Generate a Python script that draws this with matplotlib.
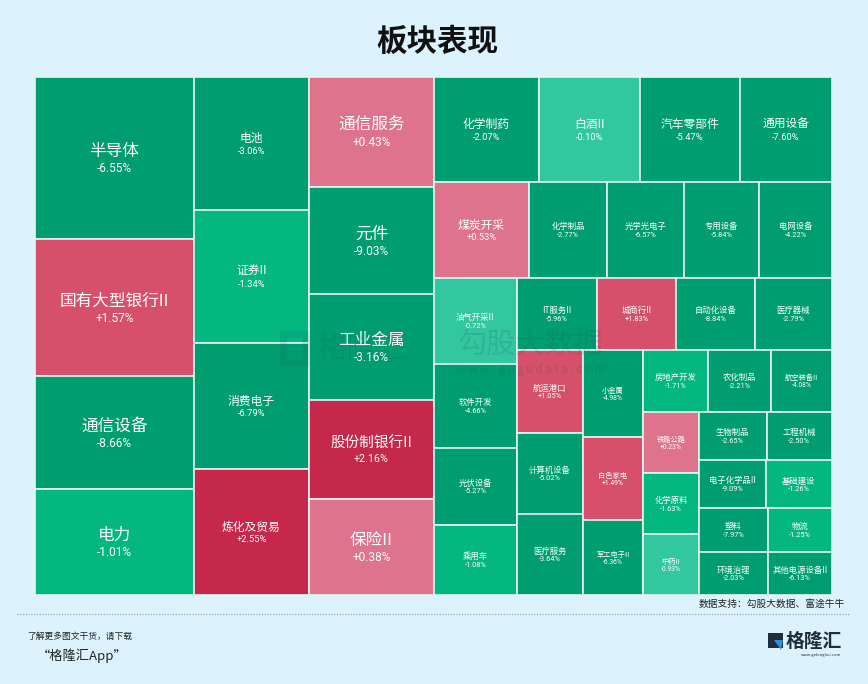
import matplotlib
matplotlib.use("Agg")
import matplotlib.pyplot as plt
from matplotlib.patches import Rectangle, Polygon

plt.rcParams['font.family'] = ['Noto Sans CJK SC', 'DejaVu Sans']

# 板块名称 / 权重(面积) / 涨跌幅
names = ["半导体", "国有大型银行II", "通信设备", "电力",
         "电池", "证券II", "消费电子", "炼化及贸易",
         "通信服务", "元件", "工业金属", "股份制银行II", "保险II",
         "化学制药", "白酒II", "汽车零部件", "通用设备",
         "煤炭开采", "化学制品", "光学光电子", "专用设备", "电网设备",
         "油气开采II", "软件开发", "光伏设备", "乘用车",
         "IT服务II", "城商行II", "自动化设备", "医疗器械",
         "航运港口", "计算机设备", "医疗服务",
         "小金属", "白色家电", "军工电子II",
         "房地产开发", "农化制品", "航空装备II",
         "铁路公路", "化学原料", "中药II",
         "生物制品", "工程机械", "电子化学品II", "基础建设",
         "塑料", "环境治理", "物流", "其他电源设备II"]

weights = [25800, 21800, 17950, 16850,
           15300, 15250, 14500, 14450,
           13750, 13400, 13250, 12400, 12000,
           11050, 10600, 10500, 9700,
           9150, 7500, 7400, 7200, 7000,
           7150, 6950, 6400, 5800,
           5760, 5700, 5680, 5550,
           5480, 5350, 5340,
           5220, 5040, 4500,
           4030, 3900, 3780,
           3420, 3410, 3400,
           3250, 3150, 3230, 3200,
           3000, 2980, 2780, 2760]

changes = [-6.55, 1.57, -8.66, -1.01,
           -3.06, -1.34, -6.79, 2.55,
           0.43, -9.03, -3.16, 2.16, 0.38,
           -2.07, -0.10, -5.47, -7.60,
           0.53, -2.77, -6.57, -5.84, -4.22,
           -0.72, -4.66, -5.27, -1.08,
           -5.96, 1.83, -8.84, -2.79,
           1.05, -5.02, -3.64,
           -4.98, 1.49, -6.36,
           -1.71, -2.21, -4.08,
           0.23, -1.63, -0.93,
           -2.65, -2.50, -9.09, -1.26,
           -7.97, -2.03, -1.25, -6.13]

# 标签字号(pt)
label_sizes = [12, 12, 12, 12,
               8.5, 8.5, 8.5, 8.5,
               12, 12, 12, 10.5, 12,
               8.5, 8.5, 8.5, 8.5,
               8.5, 6, 6, 6, 6,
               6, 6, 6, 6,
               6, 6, 6, 6,
               6, 6, 6,
               5.2, 5.2, 5.2,
               6, 6, 5.2,
               5.2, 6, 5.2,
               6, 6, 6, 6,
               6, 6, 6, 6]


def worst(row, side):
    s = sum(row)
    return max(side * side * max(row) / (s * s), s * s / (side * side * min(row)))


def place(row, rx, ry, rw, rh, rects, flush):
    s = sum(row)
    if rw <= rh:
        th = rh if flush else s / rw
        cx = rx
        for a in row:
            cw = a / th
            rects.append((cx, ry, cw, th))
            cx += cw
        return rx, ry + th, rw, rh - th
    tw = rw if flush else s / rh
    cy = ry
    for a in row:
        ch = a / tw
        rects.append((rx, cy, tw, ch))
        cy += ch
    return rx + tw, ry, rw - tw, rh


def squarify(values, x, y, w, h):
    total = sum(values)
    areas = [v * w * h / total for v in values]
    rects = []
    rx, ry, rw, rh = x, y, w, h
    row = []
    best = float('inf')
    i = 0
    while i < len(areas):
        side = min(rw, rh)
        cand = row + [areas[i]]
        s = worst(cand, side)
        if s <= best:
            row = cand
            best = s
            i += 1
        else:
            rx, ry, rw, rh = place(row, rx, ry, rw, rh, rects, False)
            row = []
            best = float('inf')
    if row:
        place(row, rx, ry, rw, rh, rects, True)
    return rects


def cell_color(c):
    if c >= 2:
        return '#c5284a'
    if c >= 1:
        return '#d6506b'
    if c >= 0:
        return '#de738c'
    if c > -1:
        return '#33c7a0'
    if c > -2:
        return '#03b77f'
    return '#009e6f'


W, H = 868, 684
fig = plt.figure(figsize=(W / 100, H / 100), dpi=100)
fig.patch.set_facecolor('#dcf3fd')
ax = fig.add_axes([0, 0, 1, 1])
ax.set_xlim(0, W)
ax.set_ylim(H, 0)
ax.axis('off')

ax.text(437, 42, "板块表现", ha='center', va='center', fontsize=22,
        fontweight='bold', color='#111111')

# 水印(在色块之上，半透明)
wm = '#1f4f6e'

rects = squarify(weights, 35, 77, 797, 518)
for (x, y, w, h), name, chg, fs in zip(rects, names, changes, label_sizes):
    ax.add_patch(Rectangle((x, y), w, h, facecolor=cell_color(chg),
                           edgecolor='#e4f6f3', linewidth=1.2))
    cx, cy = x + w / 2, y + h / 2
    px = fs * 100 / 72
    pfs = 0.55 * fs + 2.0
    ax.text(cx, cy - 0.4 * px, name, ha='center', va='center',
            fontsize=fs, color='white')
    ax.text(cx, cy + 0.64 * px, f"{chg:+.2f}%", ha='center', va='center',
            fontsize=pfs, color='white', family=['Roboto', 'DejaVu Sans'])

ax.add_patch(Rectangle((283, 334), 22, 29, facecolor='none', edgecolor=wm,
                       linewidth=5, alpha=0.12))
ax.text(362, 349, "格隆汇", ha='center', va='center', fontsize=22,
        color=wm, alpha=0.12)
ax.text(531, 346, "勾股大数据", ha='center', va='center', fontsize=21,
        color=wm, alpha=0.16)
ax.text(531, 370, "w w w . g o g u d a t a . c o m", ha='center', va='center',
        fontsize=8, fontweight='bold', color=wm, alpha=0.16)

# 底部信息
ax.text(845, 604, "数据支持：勾股大数据、富途牛牛", ha='right', va='center',
        fontsize=7, color='#222222')
ax.plot([17, 850], [614, 614], color='#8a9aa0', linewidth=0.8,
        linestyle=(0, (1, 1.5)))
ax.text(27, 636, "了解更多图文干货，请下载", ha='left', va='center',
        fontsize=6.3, color='#222222')
ax.text(37, 656, "“格隆汇App”", ha='left', va='center', fontsize=9.5,
        color='#222222')

ax.add_patch(Rectangle((768, 633), 15, 15, facecolor='#1f2d3d', edgecolor='none'))
ax.add_patch(Polygon([(774, 640), (783, 640), (781, 650)], closed=True,
                     facecolor='#2d8fe0', edgecolor='none'))
ax.text(786, 641, "格隆汇", ha='left', va='center', fontsize=13.5,
        fontweight='bold', color='#1f2d3d')
ax.text(821, 655, "www.gelonghui.com", ha='center', va='center',
        fontsize=3, color='#1f2d3d')

fig.savefig("out.png", dpi=100, facecolor=fig.get_facecolor())
